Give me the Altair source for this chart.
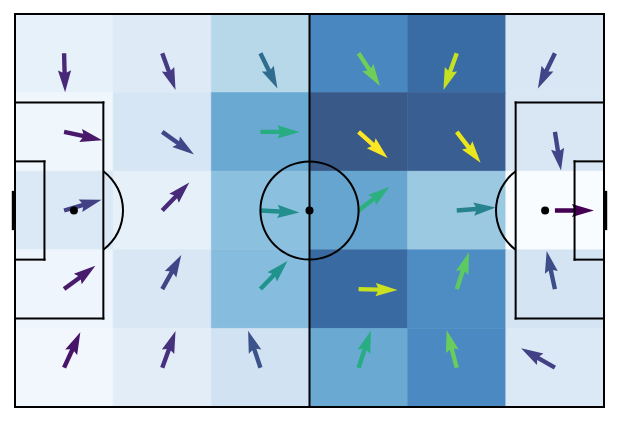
import altair as alt
import pandas as pd

# ---- heat-map grid (pitch in 120 x 80 units, y measured downward) ----
x_edges = [0, 20, 40, 60, 80, 100, 120]
y_edges = [0, 16, 32, 48, 64, 80]

# normalised counts per cell (rows top -> bottom, columns left -> right)
cell_value = [
    [0.11, 0.17, 0.35, 0.78, 0.91, 0.20],
    [0.06, 0.21, 0.62, 1.00, 0.97, 0.20],
    [0.19, 0.12, 0.49, 0.64, 0.44, 0.00],
    [0.07, 0.20, 0.51, 0.92, 0.75, 0.23],
    [0.05, 0.14, 0.25, 0.62, 0.77, 0.19],
]
# mean direction per cell, degrees clockwise from "towards right goal"
arrow_angle = [
    [88.5, 70.1, 64.1, 56.7, 109.9, 115.9],
    [12.2, 35.4, 0.0, 41.9, 52.3, 81.0],
    [343.9, 313.9, 3.1, 322.3, 355.5, 0.0],
    [323.4, 299.2, 314.0, 1.5, 288.4, 257.8],
    [294.6, 289.9, 251.6, 288.4, 254.9, 209.9],
]

# ---- pitch markings ----
seg_x1 = [0, 0, 0, 120, 60, 0, 18, 0, 0, 6, 0, 102, 102, 102, 114, 114, 114]
seg_y1 = [0, 80, 0, 0, 0, 18, 18, 62, 30, 30, 50, 18, 18, 62, 30, 30, 50]
seg_x2 = [120, 120, 0, 120, 60, 18, 18, 18, 6, 6, 6, 120, 102, 120, 120, 114, 120]
seg_y2 = [0, 80, 80, 80, 80, 18, 62, 62, 30, 50, 50, 18, 62, 62, 30, 50, 50]

goal_x = [-0.35, 120.35]
goal_y1 = [36, 36]
goal_y2 = [44, 44]

arc_x = [60, 12, 108]
arc_y = [40, 40, 40]
arc_t0 = [0.0, 0.6435, 3.7851]
arc_t1 = [6.2832, 2.4981, 5.6397]

spot_x = [12, 60, 108]
spot_y = [40, 40, 40]

# Blues colormap blended at 80 % over white
blues = ["#f9fcff", "#e5eff9", "#d1e2f2", "#b1d5e7", "#89bede",
         "#68a8d1", "#4d8dc4", "#3974b0", "#395989"]
blue_stops = [0, 0.125, 0.25, 0.375, 0.5, 0.625, 0.75, 0.875, 1.0]

rows = []
for j in range(len(y_edges) - 1):
    for i in range(len(x_edges) - 1):
        rows.append(dict(x0=x_edges[i], x1=x_edges[i + 1],
                         y0=y_edges[j], y1=y_edges[j + 1],
                         value=cell_value[j][i], angle=arrow_angle[j][i]))
cells = pd.DataFrame(rows)
segs = pd.DataFrame(dict(x=seg_x1, y=seg_y1, x2=seg_x2, y2=seg_y2))
goals = pd.DataFrame(dict(x=goal_x, y=goal_y1, y2=goal_y2))
arcs = pd.DataFrame(dict(x=arc_x, y=arc_y, t0=arc_t0, t1=arc_t1))
spots = pd.DataFrame(dict(x=spot_x, y=spot_y))

xs = alt.Scale(domain=[0, 120], nice=False, zero=False)
ys = alt.Scale(domain=[0, 80], nice=False, zero=False, reverse=True)
heat_scale = alt.Scale(domain=blue_stops, range=blues, interpolate="rgb")

heat = alt.Chart(cells).mark_rect(opacity=1, strokeWidth=0.6).encode(
    x=alt.X("x0:Q", scale=xs, axis=None), x2="x1:Q",
    y=alt.Y("y0:Q", scale=ys, axis=None), y2="y1:Q",
    fill=alt.Fill("value:Q", legend=None, scale=heat_scale),
    stroke=alt.Stroke("value:Q", legend=None, scale=heat_scale),
)

ARROW = ("M0,-0.056 L0.492,-0.056 L0.436,-0.169 L1,0 "
         "L0.436,0.169 L0.492,0.056 L0,0.056 Z")
arrows = alt.Chart(cells).transform_calculate(
    cx="(datum.x0 + datum.x1) / 2", cy="(datum.y0 + datum.y1) / 2"
).mark_point(shape=ARROW, filled=True, size=6084, opacity=1, strokeWidth=0).encode(
    x=alt.X("cx:Q", scale=xs, axis=None),
    y=alt.Y("cy:Q", scale=ys, axis=None),
    angle=alt.Angle("angle:Q", scale=None),
    color=alt.Color("value:Q", legend=None,
                    scale=alt.Scale(scheme="viridis", domain=[0, 1])),
)

lines = alt.Chart(segs).mark_rule(color="black", strokeWidth=2, strokeCap="square").encode(
    x=alt.X("x:Q", scale=xs, axis=None), x2="x2:Q",
    y=alt.Y("y:Q", scale=ys, axis=None), y2="y2:Q",
)

goal_lines = alt.Chart(goals).mark_rule(color="black", strokeWidth=3).encode(
    x=alt.X("x:Q", scale=xs, axis=None),
    y=alt.Y("y:Q", scale=ys, axis=None), y2="y2:Q",
)

circles = alt.Chart(arcs).mark_arc(radius=50.1, radius2=48.1, color="black").encode(
    x=alt.X("x:Q", scale=xs, axis=None),
    y=alt.Y("y:Q", scale=ys, axis=None),
    theta=alt.Theta("t0:Q", scale=None, stack=None),
    theta2="t1:Q",
)

dots = alt.Chart(spots).mark_point(shape="circle", filled=True, size=64,
                                   color="black", opacity=1, strokeWidth=0).encode(
    x=alt.X("x:Q", scale=xs, axis=None),
    y=alt.Y("y:Q", scale=ys, axis=None),
)

chart = alt.layer(heat, arrows, lines, goal_lines, circles, dots).resolve_scale(
    color="independent", fill="independent", stroke="independent"
).properties(
    width=589, height=393, autosize="none",
    padding={"left": 15, "top": 14, "right": 15, "bottom": 15},
).configure_view(stroke=None)

chart.save("out.html", embed_options={"renderer": "svg", "actions": False})
